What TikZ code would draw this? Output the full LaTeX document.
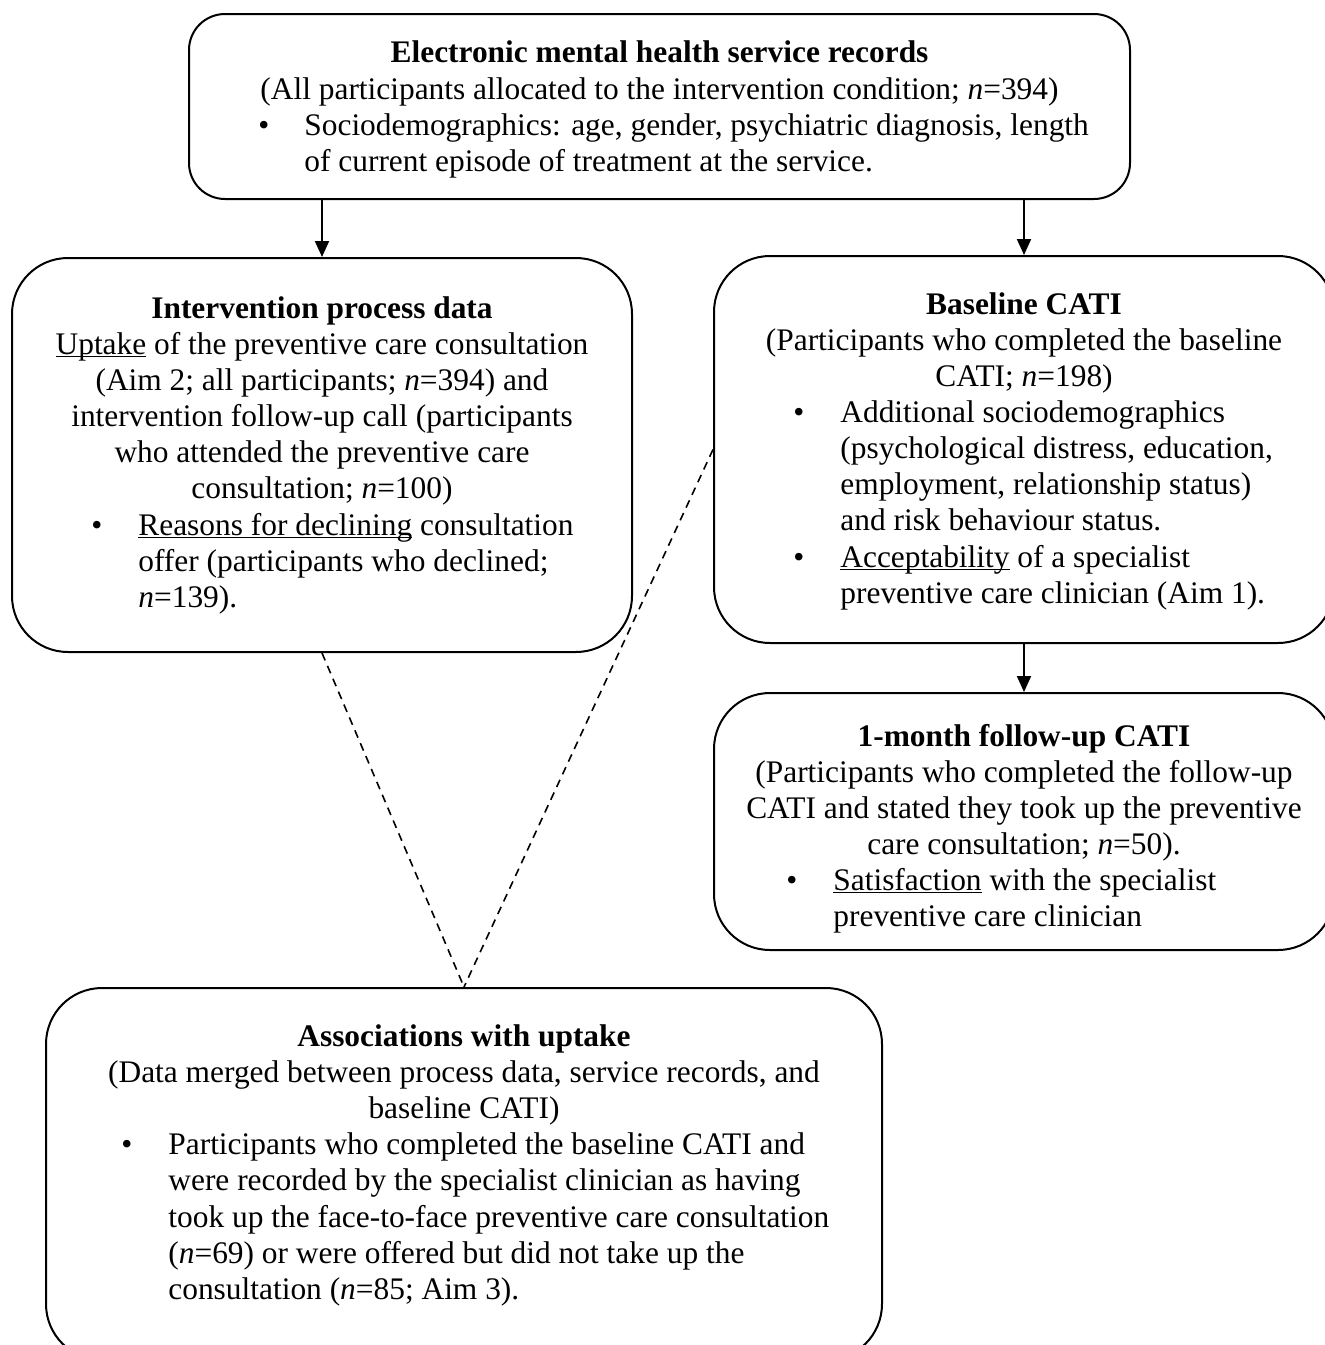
\documentclass[tikz,border=0pt]{standalone}
\usepackage{fontspec}
\setmainfont{Liberation Serif}
\usetikzlibrary{arrows.meta}
\newcommand{\fsz}{\fontsize{15.7}{18}\selectfont}
\newlength{\ulwd}
\newcommand{\ull}[1]{\settowidth{\ulwd}{#1}\rlap{\rule[-1.6pt]{\ulwd}{0.8pt}}#1}
\begin{document}
\begin{tikzpicture}[x=0.5pt,y=-0.5pt,
  box/.style={draw, line width=1pt, rounded corners=28pt, inner sep=0pt},
  ln/.style={anchor=base, inner sep=0pt, font=\fsz},
  lw/.style={anchor=base west, inner sep=0pt, font=\fsz},
  arr/.style={line width=1pt, -{Triangle[length=8pt,width=7pt]}},
  dsh/.style={line width=0.8pt, dash pattern=on 4pt off 3pt}]
\useasboundingbox (0,0) rectangle (1324,1345);
% boxes
\node[box, rounded corners=18pt, minimum width=470.5pt, minimum height=92.5pt] (top) at (659.5,106.5) {};
\node[box, minimum width=310pt, minimum height=197pt] (proc) at (322,455) {};
\node[box, minimum width=310pt, minimum height=193.5pt] (base) at (1024,449.5) {};
\node[box, minimum width=310pt, minimum height=128.5pt] (fu) at (1024,821.5) {};
\node[box, minimum width=418pt, minimum height=186pt] (assoc) at (464,1174) {};
% top text
\node[ln] (t1) at (659.5,62) {\textbf{Electronic mental health service records}};
\node[ln] (t2) at (659.5,99) {(All participants allocated to the intervention condition; \textit{n}=394)};
\node[lw] (t3b) at (258,135) {•};
\node[lw] (t3) at (304,135) {Sociodemographics: age, gender, psychiatric diagnosis, length};
\node[lw] (t4) at (304,171) {of current episode of treatment at the service.};
% process text
\node[ln] (p1) at (322,318) {\textbf{Intervention process data}};
\node[ln] (p2) at (322,354) {\ull{Uptake} of the preventive care consultation};
\node[ln] (p3) at (322,390) {(Aim 2; all participants; \textit{n}=394) and};
\node[ln] (p4) at (322,426) {intervention follow-up call (participants};
\node[ln] (p5) at (322,462) {who attended the preventive care};
\node[ln] (p6) at (322,498) {consultation; \textit{n}=100)};
\node[lw] (p7b) at (91,535) {•};
\node[lw] (p7) at (138,535) {\ull{Reasons for declining} consultation};
\node[lw] (p8) at (138,571) {offer (participants who declined;};
\node[lw] (p9) at (138,607) {\textit{n}=139).};
% baseline text
\node[ln] (b1) at (1024,314) {\textbf{Baseline CATI}};
\node[ln] (b2) at (1024,350) {(Participants who completed the baseline};
\node[ln] (b3) at (1024,386) {CATI; \textit{n}=198)};
\node[lw] (b4b) at (793,422) {•};
\node[lw] (b4) at (840,422) {Additional sociodemographics};
\node[lw] (b5) at (840,458) {(psychological distress, education,};
\node[lw] (b6) at (840,494) {employment, relationship status)};
\node[lw] (b7) at (840,530) {and risk behaviour status.};
\node[lw] (b8b) at (793,567) {•};
\node[lw] (b8) at (840,567) {\ull{Acceptability} of a specialist};
\node[lw] (b9) at (840,603) {preventive care clinician (Aim 1).};
% follow-up text
\node[ln] (f1) at (1024,746) {\textbf{1-month follow-up CATI}};
\node[ln] (f2) at (1024,782) {(Participants who completed the follow-up};
\node[ln] (f3) at (1024,818) {CATI and stated they took up the preventive};
\node[ln] (f4) at (1024,854) {care consultation; \textit{n}=50).};
\node[lw] (f5b) at (786,890) {•};
\node[lw] (f5) at (833,890) {\ull{Satisfaction} with the specialist};
\node[lw] (f6) at (833,926) {preventive care clinician};
% associations text
\node[ln] (a1) at (464,1046) {\textbf{Associations with uptake}};
\node[ln] (a2) at (464,1082) {(Data merged between process data, service records, and};
\node[ln] (a3) at (464,1118) {baseline CATI)};
\node[lw] (a4b) at (121,1154) {•};
\node[lw] (a4) at (168,1154) {Participants who completed the baseline CATI and};
\node[lw] (a5) at (168,1190) {were recorded by the specialist clinician as having};
\node[lw] (a6) at (168,1227) {took up the face-to-face preventive care consultation};
\node[lw] (a7) at (168,1263) {(\textit{n}=69) or were offered but did not take up the};
\node[lw] (a8) at (168,1299) {consultation (\textit{n}=85; Aim 3).};
% connectors
\draw[arr] (top.south -| proc.north) -- (proc.north);
\draw[arr] (top.south -| base.north) -- (base.north);
\draw[arr] (base.south) -- (fu.north);
\draw[dsh] (proc.south) -- (assoc.north);
\draw[dsh] (base.west) -- (assoc.north);
\end{tikzpicture}
\end{document}
